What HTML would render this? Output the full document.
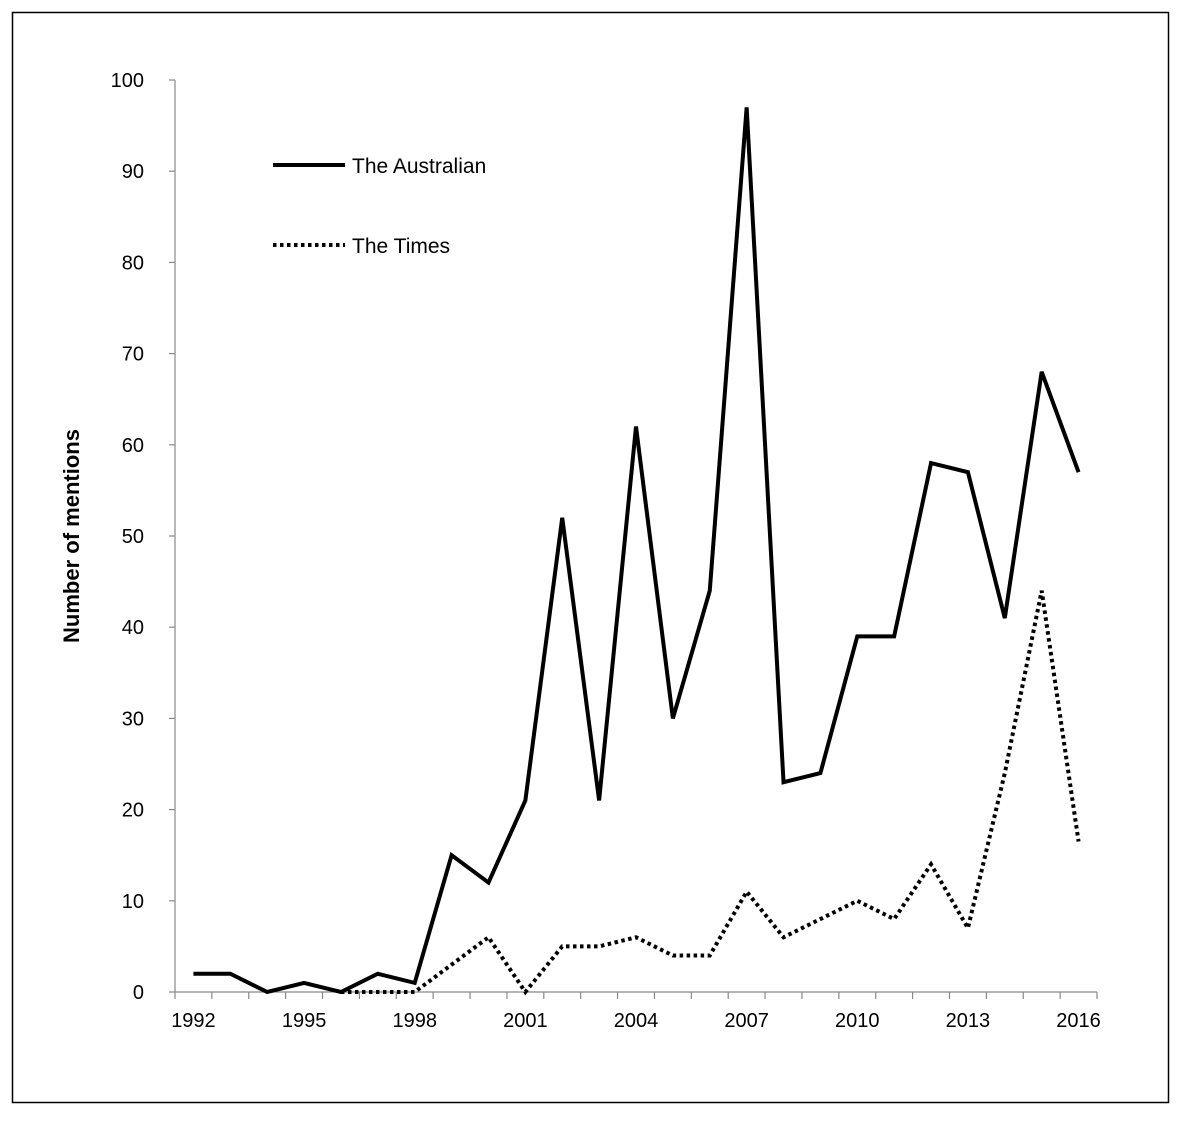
<!DOCTYPE html>
<html><head><meta charset="utf-8"><style>
body{margin:0;background:#fff;}
svg text{font-family:"Liberation Sans",sans-serif;fill:#000;}
</style></head><body>
<svg id="chart" width="1181" height="1122" viewBox="0 0 1181 1122">
<rect x="12.5" y="12.5" width="1156" height="1090" fill="#fff" stroke="#000" stroke-width="1.5"/>
<g id="axes"></g>
<g id="series"></g>
<text transform="translate(79,536) rotate(-90)" text-anchor="middle" font-size="22" font-weight="bold">Number of mentions</text>
<g>
<line x1="273" y1="165" x2="345" y2="165" stroke="#000" stroke-width="4"/>
<text x="352" y="173" font-size="21">The Australian</text>
<line x1="273" y1="245" x2="345" y2="245" stroke="#000" stroke-width="4" stroke-dasharray="3.5,3.5"/>
<text x="352" y="253" font-size="21">The Times</text>
</g>
</svg>
<script>
const years=[1992,1993,1994,1995,1996,1997,1998,1999,2000,2001,2002,2003,2004,2005,2006,2007,2008,2009,2010,2011,2012,2013,2014,2015,2016];
const australian=[2,2,0,1,0,2,1,15,12,21,52,21,62,30,44,97,23,24,39,39,58,57,41,68,57];
const timesYears=[1996,1997,1998,1999,2000,2001,2002,2003,2004,2005,2006,2007,2008,2009,2010,2011,2012,2013,2014,2015,2016];
const times=[0,0,0,3,6,0,5,5,6,4,4,11,6,8,10,8,14,7,24,44,16.5];
const yTicks=[0,10,20,30,40,50,60,70,80,90,100];
const xLabels=[1992,1995,1998,2001,2004,2007,2010,2013,2016];

const X0=175,X1=1097,Y0=992,Y1=80;
const step=(X1-X0)/years.length;
const xs=yr=>X0+(years.indexOf(yr)+0.5)*step;
const ys=v=>Y0-(v/100)*(Y0-Y1);
const NS="http://www.w3.org/2000/svg";
const axes=document.getElementById('axes'),ser=document.getElementById('series');
function mk(tag,attrs,parent){const e=document.createElementNS(NS,tag);for(const k in attrs)e.setAttribute(k,attrs[k]);parent.appendChild(e);return e;}

let e=mk('line',{x1:X0,y1:Y1,x2:X0,y2:Y0,stroke:'#888','stroke-width':1.2},axes);


e=mk('line',{x1:X0,y1:Y0,x2:X1,y2:Y0,stroke:'#888','stroke-width':1.2},axes);


yTicks.forEach(t=>{
  const y=ys(t);
  let l=mk('line',{x1:X0-6,y1:y,x2:X0,y2:y,stroke:'#888','stroke-width':1.2},axes);
  
  
  let tx=mk('text',{x:X0-31,y:y+7,'text-anchor':'end','font-size':20},axes);
  tx.textContent=t;
  
  
});
for(let i=0;i<=years.length;i++){
  const x=X0+i*step;
  let l=mk('line',{x1:x,y1:Y0,x2:x,y2:Y0+7,stroke:'#888','stroke-width':1.2},axes);
  
  
}
xLabels.forEach(yr=>{
  let tx=mk('text',{x:xs(yr),y:Y0+35,'text-anchor':'middle','font-size':20},axes);
  tx.textContent=yr;
  
  
});
let p=mk('polyline',{points:years.map((yr,i)=>xs(yr)+','+ys(australian[i])).join(' '),fill:'none',stroke:'#000','stroke-width':4,'stroke-linejoin':'miter'},ser);


p=mk('polyline',{points:timesYears.map((yr,i)=>xs(yr)+','+ys(times[i])).join(' '),fill:'none',stroke:'#000','stroke-width':4,'stroke-dasharray':'3.5,3.5'},ser);


</script>
</body></html>
